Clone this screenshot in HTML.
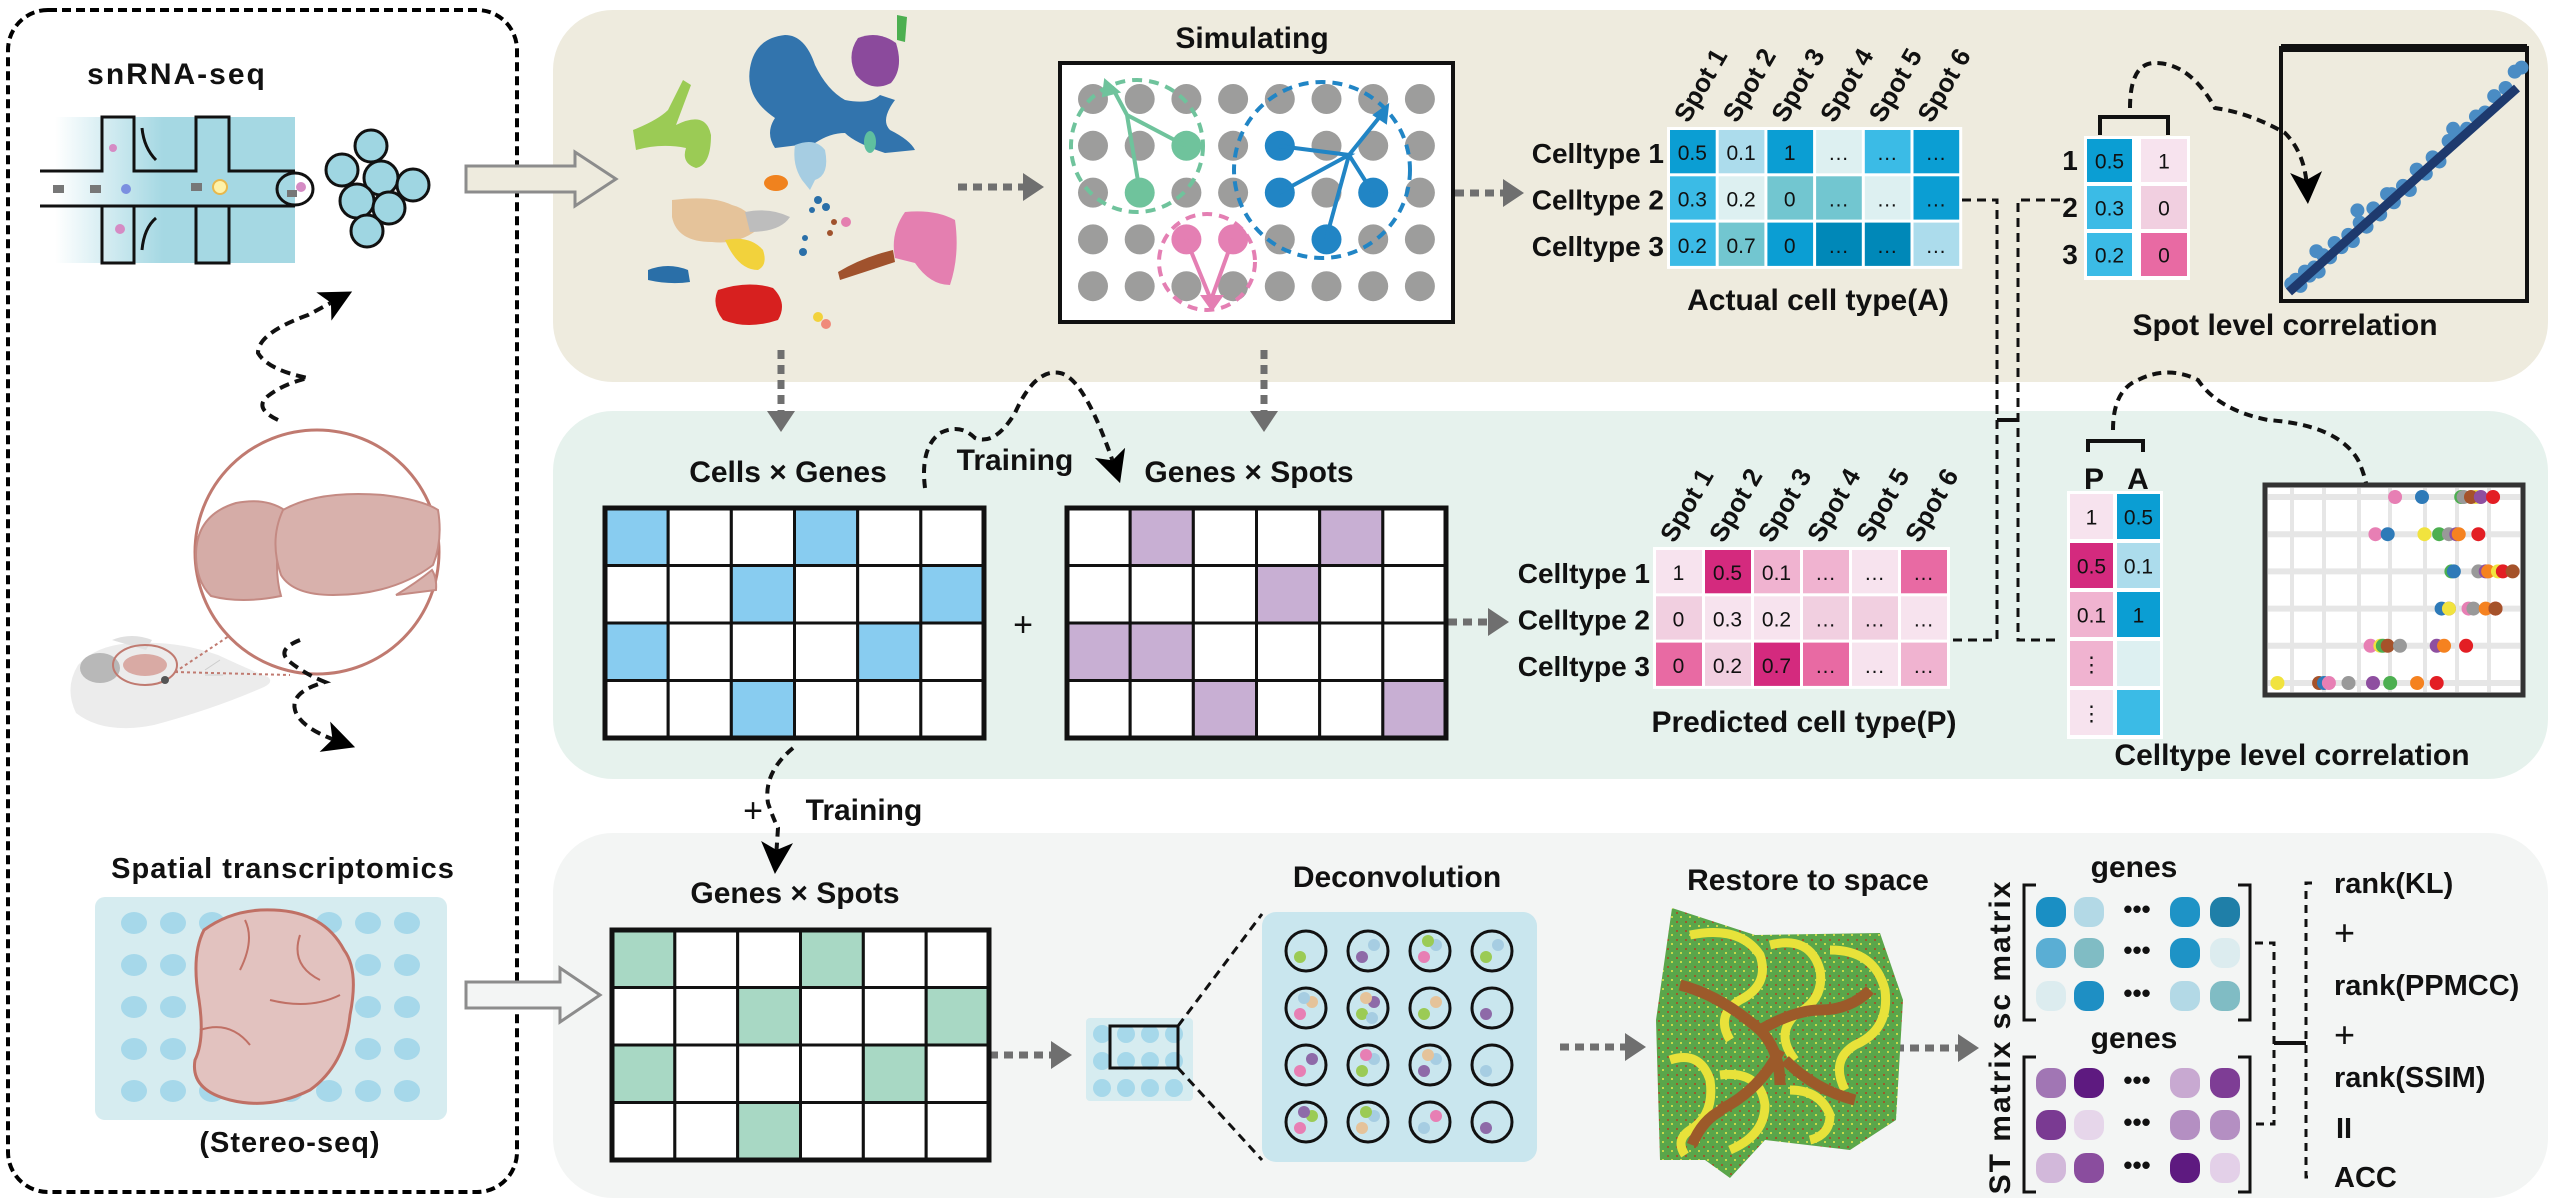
<!DOCTYPE html>
<html><head><meta charset="utf-8"><style>
html,body{margin:0;padding:0;background:#fff;}
svg{display:block;font-family:"Liberation Sans",Arial,sans-serif;}
.t{font-weight:bold;fill:#111;}
</style></head><body>
<svg id="fig" width="2556" height="1203" viewBox="0 0 2556 1203" xmlns="http://www.w3.org/2000/svg">
<defs>
<marker id="ga" markerWidth="4" markerHeight="4" refX="1" refY="2" orient="auto" markerUnits="strokeWidth"><path d="M0,0 L3,2 L0,4 z" fill="#6f6f6f"/></marker>
<marker id="ba" markerWidth="8" markerHeight="8" refX="4" refY="4" orient="auto" markerUnits="strokeWidth"><path d="M0,0 L8,4 L0,8 L2,4 z" fill="#000"/></marker>
<linearGradient id="mf" x1="0" x2="1"><stop offset="0" stop-color="#fff"/><stop offset="0.45" stop-color="#a5d8e3"/><stop offset="1" stop-color="#a5d8e3"/></linearGradient>
<pattern id="speck" width="9" height="9" patternUnits="userSpaceOnUse"><rect width="9" height="9" fill="#5aa64a"/><rect x="2" y="3" width="2" height="2" fill="#9c5a2a"/><rect x="6" y="7" width="2" height="2" fill="#c9d94a"/></pattern>
</defs>

<!-- panels -->
<rect x="553" y="10" width="1995" height="372" rx="60" fill="#eeebde"/>
<rect x="553" y="411" width="1995" height="368" rx="60" fill="#e6f2ed"/>
<rect x="553" y="833" width="1995" height="365" rx="60" fill="#f3f5f4"/>
<rect x="8" y="10" width="509" height="1182" rx="40" fill="none" stroke="#000" stroke-width="4" stroke-dasharray="9 5"/>

<!-- left panel -->
<text x="177" y="84" class="t" font-size="30" text-anchor="middle" letter-spacing="2">snRNA-seq</text>
<g>
<rect x="55" y="117" width="240" height="146" fill="url(#mf)"/>
<path d="M40,171 H102 V117 H134 V171 H196 V117 H229 V171 H295 M295,206 H229 V263 H196 V206 H134 V263 H102 V206 H40 Z" fill="none" stroke="#111" stroke-width="3"/>
<ellipse cx="295" cy="189" rx="18" ry="16" fill="none" stroke="#111" stroke-width="3"/>
<rect x="53" y="185" width="11" height="8" fill="#777"/><rect x="90" y="185" width="11" height="8" fill="#777"/><rect x="191" y="183" width="11" height="8" fill="#777"/><rect x="287" y="190" width="10" height="7" fill="#777"/>
<circle cx="126" cy="189" r="5" fill="#7b8fe0"/><circle cx="113" cy="148" r="4" fill="#d58bc4"/><circle cx="120" cy="229" r="5" fill="#d58bc4"/><circle cx="220" cy="187" r="7" fill="#fff2a8" stroke="#e8b84c" stroke-width="2"/><circle cx="301" cy="187" r="5" fill="#d58bc4"/>
<path d="M142,128 q2,20 14,32" stroke="#111" stroke-width="3" fill="none"/><path d="M142,250 q2,-22 14,-32" stroke="#111" stroke-width="3" fill="none"/>
</g>
<g fill="#9fd6e2" stroke="#111" stroke-width="3">
<circle cx="371" cy="146" r="16"/><circle cx="342" cy="170" r="16"/><circle cx="381" cy="178" r="17"/><circle cx="413" cy="185" r="16"/><circle cx="357" cy="201" r="17"/><circle cx="389" cy="208" r="16"/><circle cx="367" cy="231" r="16"/>
</g>
<path d="M278,420 q-25,-12 -10,-24 t40,-18 q-40,-8 -50,-25 q0,-20 50,-38 l30,-16" fill="none" stroke="#111" stroke-width="4" stroke-dasharray="10 6" marker-end="url(#ba)"/>
<g>
<path d="M78,665 q20,-22 60,-22 q40,-2 80,12 q30,14 50,22 q6,5 -4,10 q-50,22 -110,38 q-50,10 -78,-12 q-12,-25 2,-48 z" fill="#ececec"/>
<path d="M112,640 q20,-8 40,0 l-6,10 z" fill="#e0e0e0"/>
<ellipse cx="100" cy="668" rx="20" ry="15" fill="#b8b8b8"/>
<ellipse cx="145" cy="665" rx="32" ry="20" fill="none" stroke="#c07a70" stroke-width="2"/>
<ellipse cx="145" cy="665" rx="22" ry="11" fill="#d9aaa4"/>
<circle cx="165" cy="680" r="4" fill="#555"/>
<path d="M175,672 L250,622 M175,672 L290,675" stroke="#c07a70" stroke-width="2" stroke-dasharray="3 3"/>
<path d="M205,670 l15,-10 M205,675 l18,0" stroke="#ccc" stroke-width="1"/>
</g>
<circle cx="317" cy="552" r="122" fill="#fff" stroke="#c07a70" stroke-width="3"/>
<g stroke="#c48a83" stroke-width="2">
<path d="M196,555 q0,-40 40,-52 q30,-6 50,8 q-15,50 -5,85 q-40,8 -70,0 q-15,-15 -15,-41 z" fill="#d5aca7"/>
<path d="M283,510 q35,-20 100,-15 q40,5 55,15 q5,30 -5,55 q-40,30 -100,30 q-40,0 -52,-20 q-12,-35 2,-65 z" fill="#d8b1ac"/>
<path d="M432,570 q5,8 4,20 l-40,5 q20,-12 36,-25 z" fill="#d8b1ac"/>
</g>
<path d="M300,640 q-25,10 -10,22 t35,20 q-35,10 -30,28 q5,18 45,32" fill="none" stroke="#111" stroke-width="4" stroke-dasharray="10 6" marker-end="url(#ba)"/>
<text x="283" y="878" class="t" font-size="29" text-anchor="middle" letter-spacing="1">Spatial transcriptomics</text>
<rect x="95" y="897" width="352" height="223" rx="10" fill="#d6ecf0"/>
<g id="slidedots" fill="#a6d8ea"></g>
<path d="M204,930 q30,-22 70,-20 q50,2 70,40 q15,20 6,65 q-5,50 -40,75 q-40,20 -80,10 q-40,-10 -35,-40 q10,-20 4,-60 q-8,-45 5,-70 z" fill="#e2c2bf" stroke="#c07065" stroke-width="3"/>
<path d="M245,920 q10,20 -5,50 M300,935 q-10,30 20,45 M200,1030 q30,-10 50,15 M270,1000 q40,10 70,-5" fill="none" stroke="#c07065" stroke-width="2"/>
<text x="290" y="1152" class="t" font-size="29" text-anchor="middle" letter-spacing="1">(Stereo-seq)</text>

<!-- hollow arrows -->
<path d="M466,166 H575 V152 L616,179 L575,206 V192 H466 Z" fill="#eeebde" stroke="#8c8c8c" stroke-width="3"/>
<path d="M466,982 H560 V968 L600,995 L560,1022 V1008 H466 Z" fill="#f3f5f4" stroke="#8c8c8c" stroke-width="3"/>

<!-- UMAP -->
<g>
<path d="M785,35 q20,0 30,30 q12,25 30,35 q25,5 35,-5 l15,5 q-15,20 -5,30 q20,10 25,20 l-30,3 q-30,-10 -40,-20 q-15,0 -30,10 l-40,5 q-10,-15 0,-30 q-30,-20 -25,-50 q5,-30 35,-33 z" fill="#3274ad"/>
<path d="M858,38 q20,-8 38,5 q8,25 -5,40 q-20,10 -35,-8 q-10,-20 2,-37 z" fill="#8b4a9c"/>
<path d="M897,15 l10,2 l-2,25 l-8,-2 z" fill="#4caf50"/>
<path d="M633,130 q25,-10 35,-20 l15,-30 l8,5 l-15,40 q30,-15 35,10 q0,30 -15,33 q-15,-5 -10,-20 q-25,-5 -50,2 z" fill="#9bcb55"/>
<path d="M795,145 q20,-8 30,5 q5,25 -10,30 l-5,10 l-8,-10 q-10,-15 -7,-35 z" fill="#a6cde2"/>
<ellipse cx="776" cy="183" rx="12" ry="8" fill="#f0821e"/>
<path d="M672,200 q40,-5 60,5 q20,5 25,25 q-20,15 -45,12 q-35,0 -40,-25 z" fill="#e5c39a"/>
<path d="M745,212 q25,-5 45,5 q-10,15 -40,15 z" fill="#bdbdbd"/>
<path d="M725,240 q25,-5 38,10 q5,15 -5,20 q-20,0 -33,-30 z" fill="#f2d23c"/>
<path d="M648,270 q20,-8 40,0 l2,12 q-20,3 -42,-2 z" fill="#2a6fa8"/>
<path d="M718,290 q30,-10 55,-2 q15,15 5,32 q-30,10 -55,0 q-12,-15 -5,-30 z" fill="#d7201f"/>
<path d="M905,212 q30,-3 50,8 q5,35 -5,65 q-20,0 -35,-22 l-20,-5 q-5,-25 10,-46 z" fill="#e47fb0"/>
<path d="M838,272 q25,-15 55,-22 l2,12 q-30,10 -55,18 z" fill="#a0522d"/>
<ellipse cx="870" cy="142" rx="6" ry="11" fill="#5fbf9f"/>
<g fill="#2a6fa8"><circle cx="818" cy="200" r="4"/><circle cx="826" cy="207" r="4"/><circle cx="812" cy="210" r="3"/><circle cx="805" cy="238" r="3"/><circle cx="803" cy="252" r="4"/></g>
<g fill="#a0522d"><circle cx="834" cy="222" r="3"/><circle cx="830" cy="233" r="3"/></g>
<circle cx="846" cy="222" r="5" fill="#e47fb0"/>
<circle cx="818" cy="317" r="5" fill="#f2d23c"/><circle cx="826" cy="324" r="5" fill="#f08a7a"/>
</g>

<!-- Simulating -->
<text x="1252" y="48" class="t" font-size="30" text-anchor="middle">Simulating</text>
<rect x="1060" y="63" width="393" height="259" fill="#fff" stroke="#111" stroke-width="4"/>
<g id="simdots"></g>
<g fill="none" stroke-width="4">
<circle cx="1137" cy="146" r="66" stroke="#6fc39c" stroke-dasharray="10 7"/>
<path d="M1140,193 L1127,115 L1186,146 M1127,115 L1112,87" stroke="#6fc39c"/>
<path d="M1105,80 l14,12 l-16,4 z" fill="#6fc39c" stroke="#6fc39c" stroke-width="2"/>
<ellipse cx="1322" cy="170" rx="88" ry="88" stroke="#2185c5" stroke-dasharray="10 7"/>
<path d="M1279,146 L1349,155 L1279,193 M1349,155 L1373,193 M1349,155 L1326,239 M1349,155 L1382,114" stroke="#2185c5"/>
<path d="M1388,105 l-2,18 l-12,-8 z" fill="#2185c5" stroke="#2185c5" stroke-width="2"/>
<circle cx="1207" cy="262" r="48" stroke="#e47fb3" stroke-dasharray="10 7"/>
<path d="M1186,239 L1211,300 L1233,239" stroke="#e47fb3"/>
<path d="M1202,296 l20,0 l-10,14 z" fill="#e47fb3" stroke="#e47fb3" stroke-width="2"/>
</g>

<!-- gray dotted arrows -->
<g stroke="#6f6f6f" stroke-width="7" stroke-dasharray="9 6" fill="none">
<path d="M958,187 H1030" marker-end="url(#ga)"/>
<path d="M1455,193 H1510" marker-end="url(#ga)"/>
<path d="M781,350 V418" marker-end="url(#ga)"/>
<path d="M1264,350 V418" marker-end="url(#ga)"/>
<path d="M1448,622 H1495" marker-end="url(#ga)"/>
<path d="M989,1055 H1058" marker-end="url(#ga)"/>
<path d="M1560,1047 H1632" marker-end="url(#ga)"/>
<path d="M1880,1048 H1965" marker-end="url(#ga)"/>
</g>

<!-- Actual heatmap -->
<g id="actual"></g>
<text x="1818" y="310" class="t" font-size="30" text-anchor="middle">Actual cell type(A)</text>

<!-- spot level -->
<g id="spotcol"></g>
<path d="M2100,135 V117 H2168 V135" fill="none" stroke="#111" stroke-width="4"/>
<path d="M2130,108 q0,-45 25,-45 q35,0 60,45 q35,5 70,25 q20,20 22,55" fill="none" stroke="#111" stroke-width="4" stroke-dasharray="9 6" marker-end="url(#ba)"/>
<rect x="2281" y="48" width="246" height="253" fill="none" stroke="#111" stroke-width="4"/>
<rect x="2281" y="44" width="246" height="8" fill="#111"/>
<g id="scatter1"></g>
<text x="2285" y="335" class="t" font-size="30" text-anchor="middle">Spot level correlation</text>

<!-- connection dashed lines -->
<g fill="none" stroke="#111" stroke-width="3" stroke-dasharray="9 6">
<path d="M1962,200 H1997 V640 H1952"/>
<path d="M2060,200 H2018 V640 H2060"/>
</g>
<path d="M1997,420 H2018" stroke="#111" stroke-width="4"/>

<!-- middle panel -->
<text x="788" y="482" class="t" font-size="30" text-anchor="middle">Cells × Genes</text>
<text x="1015" y="470" class="t" font-size="30" text-anchor="middle">Training</text>
<text x="1249" y="482" class="t" font-size="30" text-anchor="middle">Genes × Spots</text>
<path d="M925,488 q-5,-40 15,-55 q20,-10 35,5 q20,8 40,-25 q20,-45 45,-40 q25,5 55,95" fill="none" stroke="#111" stroke-width="4" stroke-dasharray="9 6" marker-end="url(#ba)"/>
<g id="grid1"></g>
<text x="1023" y="636" font-size="34" text-anchor="middle" fill="#111">+</text>
<g id="grid2"></g>
<g id="pred"></g>
<text x="1804" y="732" class="t" font-size="30" text-anchor="middle">Predicted cell type(P)</text>
<text x="2094" y="489" class="t" font-size="30" text-anchor="middle">P</text>
<text x="2138" y="489" class="t" font-size="30" text-anchor="middle">A</text>
<path d="M2088,452 V441 H2143 V452" fill="none" stroke="#111" stroke-width="4"/>
<path d="M2113,430 q0,-40 25,-50 q30,-15 60,0 q20,30 70,40 q70,5 90,40 q12,25 12,60" fill="none" stroke="#111" stroke-width="4" stroke-dasharray="9 6" marker-end="url(#ba)"/>
<g id="pacol"></g>
<rect x="2265" y="485" width="258" height="210" fill="#fff" stroke="#333" stroke-width="5"/>
<g id="scatter2"></g>
<text x="2292" y="765" class="t" font-size="30" text-anchor="middle">Celltype level correlation</text>

<!-- bottom panel -->
<path d="M793,748 q-30,25 -25,55 q5,15 10,25 l-2,30" fill="none" stroke="#111" stroke-width="4" stroke-dasharray="9 6" marker-end="url(#ba)"/>
<text x="753" y="822" font-size="34" text-anchor="middle" fill="#111">+</text>
<text x="864" y="820" class="t" font-size="30" text-anchor="middle">Training</text>
<text x="795" y="903" class="t" font-size="30" text-anchor="middle">Genes × Spots</text>
<g id="grid3"></g>
<g>
<rect x="1086" y="1018" width="107" height="83" rx="4" fill="#d6ecf0"/>
<g id="minidots" fill="#a6d8ea"></g>
<rect x="1110" y="1026" width="68" height="42" fill="none" stroke="#111" stroke-width="3"/>
</g>
<path d="M1178,1026 L1262,914 M1178,1068 L1262,1160" stroke="#111" stroke-width="3" stroke-dasharray="9 6"/>
<text x="1397" y="887" class="t" font-size="30" text-anchor="middle">Deconvolution</text>
<rect x="1262" y="912" width="275" height="250" rx="14" fill="#c9e6ee"/>
<g id="decon"></g>
<text x="1808" y="890" class="t" font-size="30" text-anchor="middle">Restore to space</text>
<g>
<path d="M1672,908 L1755,935 L1880,933 L1903,1000 L1896,1120 L1850,1150 L1765,1140 L1730,1178 L1705,1160 L1660,1160 L1656,1020 Z" fill="url(#speck)"/>
<g fill="none" stroke="#e8e23a" stroke-width="9">
<path d="M1690,935 q50,-10 70,20 q10,30 -20,45 q-25,15 -10,40"/>
<path d="M1770,945 q40,-10 50,25 q5,30 -25,45 q-20,20 0,45"/>
<path d="M1830,950 q45,0 55,40 q5,40 -30,55 q-25,15 -10,45"/>
<path d="M1670,1060 q30,-10 40,20 q5,35 -20,50 q-15,10 -5,25"/>
<path d="M1720,1075 q40,-5 45,30 q0,30 -35,45"/>
<path d="M1790,1090 q30,0 40,25 q0,20 -20,25"/>
</g>
<path d="M1680,985 q40,10 80,45 q20,20 20,55 M1760,1030 q35,-20 60,-20 q30,0 50,-20 M1780,1050 q-20,40 -60,60 M1785,1060 q30,30 70,40 M1722,1110 q-20,10 -30,35" fill="none" stroke="#9c5a2a" stroke-width="11"/>
</g>
<text transform="translate(2010,1037) rotate(-90)" font-size="30" class="t" text-anchor="middle" letter-spacing="2">ST matrix sc matrix</text>
<text x="2134" y="877" class="t" font-size="30" text-anchor="middle">genes</text>
<text x="2134" y="1048" class="t" font-size="30" text-anchor="middle">genes</text>
<g fill="none" stroke="#111" stroke-width="3">
<path d="M2036,885 H2024 V1020 H2036 M2238,885 H2250 V1020 H2238"/>
<path d="M2036,1057 H2024 V1192 H2036 M2238,1057 H2250 V1192 H2238"/>
</g>
<g id="mats"></g>
<g fill="none" stroke="#111" stroke-width="3" stroke-dasharray="8 6">
<path d="M2255,943 H2274 V1124 H2255"/>
<path d="M2312,883 H2306 V1177 H2312"/>
</g>
<path d="M2274,1043 H2306" stroke="#111" stroke-width="4"/>
<g class="t" font-size="29">
<text x="2334" y="893">rank(KL)</text>
<text x="2334" y="945" font-weight="normal" font-size="36">+</text>
<text x="2334" y="995">rank(PPMCC)</text>
<text x="2334" y="1047" font-weight="normal" font-size="36">+</text>
<text x="2334" y="1087">rank(SSIM)</text>
<text x="2336" y="1138">II</text>
<text x="2334" y="1187">ACC</text>
</g>
</svg>
<script>
const NS='http://www.w3.org/2000/svg';
function mk(tag,attrs,parent){const e=document.createElementNS(NS,tag);for(const k in attrs)e.setAttribute(k,attrs[k]);parent.appendChild(e);return e;}

// ---- data arrays ----
const spotLabels=['Spot 1','Spot 2','Spot 3','Spot 4','Spot 5','Spot 6'];
const celltypeLabels=['Celltype 1','Celltype 2','Celltype 3'];
const actualValues=[['0.5','0.1','1','…','…','…'],['0.3','0.2','0','…','…','…'],['0.2','0.7','0','…','…','…']];
const actualLevels=[[4,1,4,0,3,4],[3,0,2,2,0,4],[3,2,4,5,5,1]];
const predValues=[['1','0.5','0.1','…','…','…'],['0','0.3','0.2','…','…','…'],['0','0.2','0.7','…','…','…']];
const predLevels=[[0,3,2,2,0,4],[1,0,0,1,1,0],[4,1,3,4,0,2]];
const spotActual=['0.5','0.3','0.2'];
const spotActualLv=[4,3,3];
const spotPred=['1','0','0'];
const spotPredLv=[0,1,4];
const paP=['1','0.5','0.1','⋮','⋮'];
const paPLv=[0,3,2,2,0];
const paA=['0.5','0.1','1','',''];
const paALv=[4,1,4,0,3];
const cgPattern=[[1,0,0,1,0,0],[0,0,1,0,0,1],[1,0,0,0,1,0],[0,0,1,0,0,0]];
const gsPattern=[[0,1,0,0,1,0],[0,0,0,1,0,0],[1,1,0,0,0,0],[0,0,1,0,0,1]];
const scatterX=[0.01,0.03,0.05,0.07,0.09,0.11,0.13,0.15,0.18,0.2,0.23,0.26,0.28,0.31,0.34,0.37,0.4,0.43,0.46,0.5,0.53,0.56,0.6,0.63,0.66,0.7,0.74,0.78,0.82,0.86,0.9,0.95,0.99,0.3,0.12,0.45,0.72,1.02];
const scatterY=[0.04,0.06,0.03,0.1,0.08,0.12,0.1,0.18,0.17,0.24,0.22,0.28,0.25,0.34,0.32,0.41,0.38,0.48,0.44,0.52,0.5,0.6,0.58,0.66,0.64,0.74,0.77,0.8,0.86,0.88,0.96,1.0,1.08,0.4,0.2,0.48,0.8,1.1];
const corrRowColors=[['#e77fb4','#2e7ab8','#4caf50','#999999','#f1e33e','#a5522a','#8e4fa0','#e31e24'],['#e77fb4','#2e7ab8','#f1e33e','#4caf50','#999999','#8e4fa0','#f58220','#e31e24'],['#4caf50','#2e7ab8','#999999','#8e4fa0','#f58220','#f1e33e','#e31e24','#a5522a'],['#2e7ab8','#8e4fa0','#f1e33e','#e77fb4','#999999','#f58220','#e31e24','#a5522a'],['#e77fb4','#f1e33e','#4caf50','#a5522a','#999999','#8e4fa0','#f58220','#e31e24'],['#f1e33e','#a5522a','#2e7ab8','#e77fb4','#999999','#8e4fa0','#4caf50','#f58220','#e31e24']];
const corrRowValues=[[49,60,76,77,82,80,84,89],[41,46,61,67,71,74,75,83],[72,73,83,86,87,91,93,97],[68,71,71,79,81,86,90,90],[39,43,44,46,51,66,69,78],[1,18,20,22,30,40,47,58,66]];
const deconCells=[[['#9bcb55']],[['#8e6aa8'],['#a6cde2']],[['#e77fb4'],['#a6cde2'],['#9bcb55']],[['#9bcb55'],['#a6cde2']],
[['#e77fb4'],['#e5c39a'],['#a6cde2']],[['#9bcb55'],['#8e6aa8'],['#e5c39a'],['#a6cde2']],[['#9bcb55'],['#e5c39a']],[['#8e6aa8']],
[['#e77fb4'],['#8e6aa8']],[['#9bcb55'],['#a6cde2'],['#e77fb4']],[['#8e6aa8'],['#a6cde2'],['#e5c39a']],[['#a6cde2']],
[['#e77fb4'],['#9bcb55'],['#8e6aa8']],[['#e5c39a'],['#a6cde2'],['#9bcb55']],[['#a6cde2'],['#e77fb4']],[['#8e6aa8']]];
const scMatrix=[['#1a8fc4','#b3d9e6','#1e93c6','#1f7fa8'],['#5aaed4','#80bcc4','#1e93c6','#dcecef'],['#dcecef','#1e8fc4','#b3d9e6','#80bcc4']];
const stMatrix=[['#a176b4','#5e1a80','#c8a9d1','#7e3d95'],['#7a3a92','#e6d6ea','#b48fc2','#b48fc2'],['#d2b8da','#8a4d9e','#5e1a80','#e3d0e8']];

const blues=['#ddf0f1','#acdcec','#72c6d0','#3bbbe6','#0b9ed3','#0088b8'];
const pinks=['#f7e3ee','#f1cfe0','#f0b3d0','#d42a7e','#e86aa3'];

function heatmap(gid,x0,y0,cw,ch,vals,lv,pal,name){
  const g=document.getElementById(gid);
  
  
  mk('rect',{x:x0-3,y:y0-3,width:cw*6+3,height:ch*3+3,fill:'#fff'},g);
  for(let r=0;r<3;r++){
    const lab=mk('text',{x:x0-6,y:y0+ch*r+ch/2+10,'text-anchor':'end','font-size':28,'font-weight':'bold',fill:'#111'},g);
    lab.textContent=celltypeLabels[r];
    
    
    for(let c=0;c<6;c++){
      const cell=mk('rect',{x:x0+c*cw,y:y0+r*ch,width:cw-3,height:ch-3,fill:pal[lv[r][c]]},g);
      
      
      const t=mk('text',{x:x0+c*cw+cw/2-2,y:y0+r*ch+ch/2+7,'text-anchor':'middle','font-size':21,fill:'#111'},g);
      t.textContent=vals[r][c];
    }
  }
  for(let c=0;c<6;c++){
    const bx=x0+c*cw+cw/2-6, by=y0-6;
    const s=mk('text',{x:0,y:0,'font-size':26,'font-weight':'bold',fill:'#111',transform:`translate(${bx},${by}) rotate(-60)`},g);
    s.textContent=spotLabels[c];
    
    
  }
}
heatmap('actual',1670,130,48.7,46.3,actualValues,actualLevels,blues,'actual-celltype-heatmap');
heatmap('pred',1656,550,49,46.3,predValues,predLevels,pinks,'predicted-celltype-heatmap');

function column(g,x,y0,w,h,vals,lv,pal){
  for(let i=0;i<vals.length;i++){
    const r=mk('rect',{x:x,y:y0+i*(h+4),width:w,height:h,fill:pal[lv[i]]},g);
    
    
    const t=mk('text',{x:x+w/2,y:y0+i*(h+4)+h/2+8,'text-anchor':'middle','font-size':21,fill:'#111'},g);
    t.textContent=vals[i];
  }
}
const sc=document.getElementById('spotcol');


mk('rect',{x:2084,y:136,width:106,height:144,fill:'#fff'},sc);
column(sc,2087,139,45,43,spotActual,spotActualLv,blues);
column(sc,2141,139,46,43,spotPred,spotPredLv,pinks);
['1','2','3'].forEach((s,i)=>{const t=mk('text',{x:2070,y:170+i*47,'text-anchor':'middle','font-size':28,'font-weight':'bold',fill:'#111'},sc);t.textContent=s;});
const pa=document.getElementById('pacol');


mk('rect',{x:2067,y:491,width:96,height:248,fill:'#fff'},pa);
column(pa,2070,494,43,45,paP,paPLv,pinks);
column(pa,2117,494,43,45,paA,paALv,blues);

function grid(gid,x0,y0,w,h,pat,col,name){
  const g=document.getElementById(gid);
  
  
  const cw=w/6,ch=h/4;
  for(let r=0;r<4;r++)for(let c=0;c<6;c++){
    const cell=mk('rect',{x:x0+c*cw,y:y0+r*ch,width:cw,height:ch,fill:pat[r][c]?col:'#fff',stroke:'#111','stroke-width':3},g);
    
    
  }
  mk('rect',{x:x0,y:y0,width:w,height:h,fill:'none',stroke:'#111','stroke-width':5},g);
}
grid('grid1',605,508,379,230,cgPattern,'#88ccf0','cells-genes-matrix');
grid('grid2',1067,508,379,230,gsPattern,'#c8afd3','genes-spots-matrix-1');
grid('grid3',612,930,377,230,cgPattern,'#a8d8c4','genes-spots-matrix-2');

const sd=document.getElementById('simdots');


const colored={'2,1':'#6fc39c','1,2':'#6fc39c','4,1':'#2185c5','4,2':'#2185c5','6,2':'#2185c5','5,3':'#2185c5','2,3':'#e47fb3','3,3':'#e47fb3'};
for(let r=0;r<5;r++)for(let c=0;c<8;c++){
  const d=mk('circle',{cx:1093+c*46.7,cy:99+r*46.8,r:15,fill:colored[c+','+r]||'#9d9d9c'},sd);
  
  
}

const sl=document.getElementById('slidedots');
for(let r=0;r<5;r++)for(let c=0;c<8;c++){mk('ellipse',{cx:134+c*39,cy:923+r*42,rx:13,ry:11},sl);}
const md=document.getElementById('minidots');
for(let r=0;r<3;r++)for(let c=0;c<4;c++){mk('circle',{cx:1102+c*24,cy:1034+r*27,r:9},md);}

const s1=document.getElementById('scatter1');


const sx1=v=>2289+v*228, sy1=v=>292-v*204;
for(let i=0;i<scatterX.length;i++){
  const p=mk('circle',{cx:sx1(scatterX[i]),cy:sy1(scatterY[i]),r:7,fill:'#4a8cc4'},s1);
  
  
}
const fit=mk('line',{x1:sx1(0),y1:sy1(0),x2:sx1(1),y2:sy1(1),stroke:'#1e3a6e','stroke-width':9},s1);



const s2=document.getElementById('scatter2');


const sx2=v=>2275+v*2.45, sy2=i=>497+i*37.2;
[2292,2324,2359,2390,2425,2457,2489].forEach(x=>mk('line',{x1:x,y1:488,x2:x,y2:692,stroke:'#e6e6e6','stroke-width':4},s2));
for(let i=0;i<6;i++){
  mk('line',{x1:2268,y1:sy2(i),x2:2520,y2:sy2(i),stroke:'#e6e6e6','stroke-width':6},s2);
  corrRowValues[i].forEach((v,j)=>{
    const p=mk('circle',{cx:sx2(v),cy:sy2(i),r:7,fill:corrRowColors[i][j]},s2);
    
    
  });
}

const dc=document.getElementById('decon');


const offs=[[-6,6],[6,-6],[-2,-10],[4,10]];
for(let k=0;k<16;k++){
  const cx=1306+(k%4)*62, cy=951+Math.floor(k/4)*57;
  const sp=mk('circle',{cx:cx,cy:cy,r:20,fill:'#c9e6ee',stroke:'#111','stroke-width':3},dc);
  
  
  deconCells[k].forEach((cc,j)=>mk('circle',{cx:cx+offs[j][0],cy:cy+offs[j][1],r:6,fill:cc[0]},dc));
}

const mg=document.getElementById('mats');


const mx=[2051,2089,2185,2225];
function mat(m,ys){for(let r=0;r<3;r++){for(let c=0;c<4;c++){const e=mk('rect',{x:mx[c]-15,y:ys[r]-15,width:30,height:30,rx:12,fill:m[r][c]},mg);}
 const t=mk('text',{x:2137,y:ys[r]+6,'text-anchor':'middle','font-size':26,'font-weight':'bold',fill:'#111'},mg);t.textContent='•••';}}
mat(scMatrix,[912,953,996]);
mat(stMatrix,[1083,1125,1168]);
</script>
</body></html>
